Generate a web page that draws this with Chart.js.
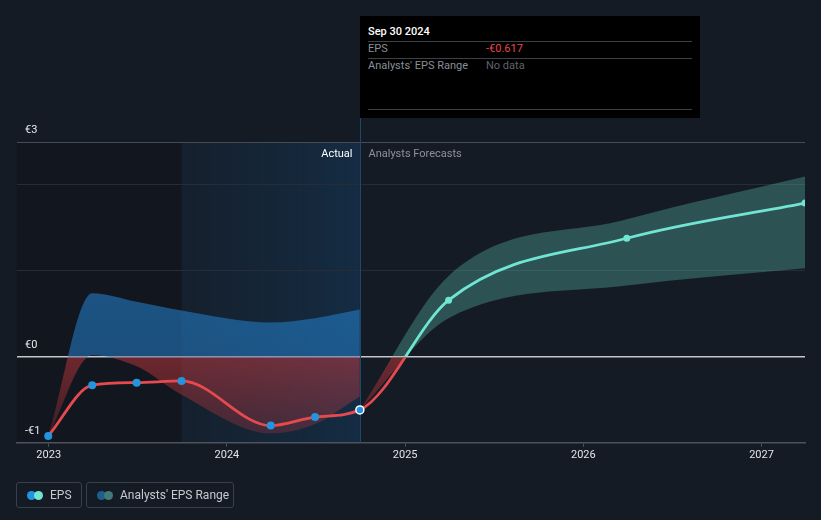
<!DOCTYPE html>
<html>
<head>
<meta charset="utf-8">
<script src="https://cdn.jsdelivr.net/npm/chart.js@4.4.1/dist/chart.umd.min.js"></script>
<style>
  html, body { margin: 0; padding: 0; background: #151b24; }
  body { width: 821px; height: 520px; position: relative; overflow: hidden; font-family: Roboto, "Noto Sans", sans-serif; }
  canvas { position: absolute; left: 0; top: 0; }
  .tip { position: absolute; left: 360px; top: 16px; width: 340px; height: 102px; background: #000; font-size: 11px; }
  .tip div { position: absolute; white-space: nowrap; line-height: 14px; }
  .tip .rule { left: 8px; width: 324px; height: 1px; background: #3d4047; }
  .legend { position: absolute; top: 482px; height: 26px; border: 1px solid #3a404a; border-radius: 3px; box-sizing: border-box; color: #c6c9ce; font-size: 12px; }
  .legend .dot { position: absolute; top: 8px; width: 9px; height: 9px; border-radius: 50%; }
  .legend span { position: absolute; top: 5px; white-space: nowrap; line-height: 14px; }
</style>
</head>
<body>
<canvas id="eps" width="821" height="520"></canvas>

<div class="tip">
  <div style="left:8px; top:9px; color:#fff; font-weight:500;">Sep 30 2024</div>
  <div class="rule" style="top:25px;"></div>
  <div style="left:8px; top:26px; color:#8a8f98;">EPS</div>
  <div style="left:126px; top:26px; color:#e8474c;">-€0.617</div>
  <div class="rule" style="top:42px;"></div>
  <div style="left:8px; top:43px; color:#8a8f98;">Analysts' EPS Range</div>
  <div style="left:126px; top:43px; color:#5f636b;">No data</div>
  <div class="rule" style="top:93px;"></div>
</div>

<div class="legend" style="left:16px; width:66px;">
  <div class="dot" style="left:10px; background:#2394df;"></div>
  <div class="dot" style="left:17px; background:#6fe5d2;"></div>
  <span style="left:33px;">EPS</span>
</div>
<div class="legend" style="left:86px; width:148px;">
  <div class="dot" style="left:10px; background:#1f5f8f;"></div>
  <div class="dot" style="left:17px; background:#3f7b78;"></div>
  <span style="left:33px;">Analysts' EPS Range</span>
</div>

<script>
// reported EPS (EUR)
const actualDates = ['2022-12-31', '2023-03-31', '2023-06-30', '2023-09-30', '2024-03-31', '2024-06-30', '2024-09-30'];
const actualEps = [-0.92, -0.33, -0.30, -0.28, -0.80, -0.70, -0.617];
// analysts' range around the reported quarters
const pastLow = [-0.92, 0.02, -0.11, -0.44, -0.89, -0.78, -0.46];
const pastHigh = [-0.92, 0.74, 0.64, 0.54, 0.40, 0.45, 0.55];

// forecasts
const forecastDates = ['2025-03-31', '2026-03-31', '2027-03-31'];
const forecastEps = [0.66, 1.38, 1.79];
const rangeDates = ['2024-09-30', '2025-03-31', '2026-03-31', '2027-03-31'];
const rangeLow = [-0.617, 0.45, 0.83, 1.03];
const rangeHigh = [-0.617, 0.94, 1.60, 2.10];

const yearTicks = [2023, 2024, 2025, 2026, 2027];
const yGrid = [-1, 0, 1, 2, 2.5];
const yTickValues = [-1, 0, 2.5];
const yTickLabels = ['-€1', '€0', '€3'];

const xStart = '2022-10-28';
const xEnd = '2027-03-31';
const shadeStart = '2023-09-30';
const todayDate = '2024-09-30';

function toYear(s) {
  const d = new Date(s + 'T00:00:00Z');
  const y = d.getUTCFullYear();
  const a = Date.UTC(y, 0, 1), b = Date.UTC(y + 1, 0, 1);
  return y + (d.getTime() - a) / (b - a);
}
const pts = (dates, vals) => dates.map((d, i) => ({ x: toYear(d), y: vals[i] }));

function signGradient(chart, above, below) {
  const { ctx, chartArea, scales } = chart;
  if (!chartArea) return null;
  const y0 = scales.y.getPixelForValue(0);
  const f = Math.min(1, Math.max(0, (y0 - chartArea.top) / (chartArea.bottom - chartArea.top)));
  const g = ctx.createLinearGradient(0, chartArea.top, 0, chartArea.bottom);
  g.addColorStop(0, above[0]);
  g.addColorStop(f, above[1]);
  g.addColorStop(f, below[0]);
  g.addColorStop(1, below[1]);
  return g;
}

const RED = '#e64a4f';
const TEAL = '#6fe5d2';
const redFill = ['rgba(220,60,65,0.45)', 'rgba(220,60,65,0.2)'];

const epsPoints = pts(actualDates, actualEps).concat(pts(forecastDates, forecastEps));
const nA = actualDates.length;
const pointColors = epsPoints.map((p, i) => i < nA ? '#2394df' : TEAL);
const pointBorders = epsPoints.map((p, i) => i === nA - 1 ? '#ffffff' : 'rgba(0,0,0,0)');
const pointBorderW = epsPoints.map((p, i) => i === nA - 1 ? 1.5 : 0);
const pointRadii = epsPoints.map((p, i) => i < nA ? 4 : 3.5);

const backdrop = {
  id: 'backdrop',
  beforeDraw(chart) {
    const { ctx, chartArea: a, scales: { x } } = chart;
    const xs = x.getPixelForValue(toYear(shadeStart));
    const xt = x.getPixelForValue(toYear(todayDate));
    ctx.save();
    ctx.fillStyle = '#12161e';
    ctx.fillRect(a.left, a.top, xs - a.left, a.bottom - a.top);
    const g = ctx.createLinearGradient(xs, 0, xt, 0);
    g.addColorStop(0, 'rgba(25,80,130,0.10)');
    g.addColorStop(1, 'rgba(20,90,150,0.28)');
    ctx.fillStyle = g;
    ctx.fillRect(xs, a.top, xt - xs, a.bottom - a.top);
    ctx.restore();
  },
  beforeDatasetsDraw(chart) {
    const { ctx, chartArea: a, scales: { x } } = chart;
    const xt = Math.round(x.getPixelForValue(toYear(todayDate))) + 0.5;
    ctx.save();
    ctx.strokeStyle = '#1d4a6a';
    ctx.lineWidth = 1;
    ctx.beginPath();
    ctx.moveTo(xt, 118);
    ctx.lineTo(xt, a.bottom);
    ctx.stroke();
    ctx.font = '11px Roboto, sans-serif';
    ctx.textBaseline = 'middle';
    ctx.textAlign = 'right';
    ctx.fillStyle = '#ffffff';
    ctx.fillText('Actual', xt - 8, a.top + 12);
    ctx.textAlign = 'left';
    ctx.fillStyle = '#8d9199';
    ctx.fillText('Analysts Forecasts', xt + 8, a.top + 12);
    ctx.restore();
  }
};

new Chart(document.getElementById('eps'), {
  type: 'line',
  data: {
    datasets: [
      {
        data: epsPoints,
        borderColor: c => signGradient(c.chart, [TEAL, TEAL], [RED, RED]),
        borderWidth: 2.8,
        cubicInterpolationMode: 'monotone',
        pointBackgroundColor: pointColors,
        pointBorderColor: pointBorders,
        pointBorderWidth: pointBorderW,
        pointRadius: pointRadii,
        fill: false
      },
      {
        data: pts(actualDates, pastLow),
        borderColor: 'rgba(0,0,0,0)',
        pointRadius: 0,
        cubicInterpolationMode: 'monotone',
        fill: false
      },
      {
        data: pts(actualDates, pastHigh),
        borderColor: 'rgba(0,0,0,0)',
        pointRadius: 0,
        cubicInterpolationMode: 'monotone',
        fill: '-1',
        backgroundColor: c => signGradient(c.chart, ['rgba(35,130,205,0.68)', 'rgba(35,125,200,0.55)'], redFill)
      },
      {
        data: pts(rangeDates, rangeLow),
        borderColor: 'rgba(0,0,0,0)',
        pointRadius: 0,
        cubicInterpolationMode: 'monotone',
        fill: false
      },
      {
        data: pts(rangeDates, rangeHigh),
        borderColor: 'rgba(0,0,0,0)',
        pointRadius: 0,
        cubicInterpolationMode: 'monotone',
        fill: '-1',
        backgroundColor: c => signGradient(c.chart, ['rgba(95,195,180,0.33)', 'rgba(95,195,180,0.33)'], redFill)
      }
    ]
  },
  options: {
    responsive: false,
    animation: false,
    events: [],
    layout: { padding: { left: 1, right: 16, top: 142, bottom: 56 } },
    plugins: { legend: { display: false }, tooltip: { enabled: false } },
    scales: {
      x: {
        type: 'linear',
        min: toYear(xStart),
        max: toYear(xEnd),
        afterBuildTicks: s => { s.ticks = yearTicks.map(v => ({ value: v })); },
        ticks: {
          color: '#e2e4e8',
          font: { family: 'Roboto', size: 11 },
          padding: 2,
          maxRotation: 0,
          autoSkip: false,
          callback: v => String(v)
        },
        grid: { drawOnChartArea: false, drawTicks: true, tickLength: 4, color: '#4d535d' },
        border: { color: '#4d535d', width: 1.5 }
      },
      y: {
        type: 'linear',
        min: -1,
        max: 2.5,
        afterBuildTicks: s => { s.ticks = yGrid.map(v => ({ value: v })); },
        ticks: {
          mirror: true,
          padding: 8,
          labelOffset: -12,
          color: '#e8eaed',
          font: { family: 'Roboto', size: 11 },
          callback: v => {
            const i = yTickValues.indexOf(v);
            return i >= 0 ? yTickLabels[i] : '';
          }
        },
        grid: {
          drawTicks: false,
          color: c => {
            const v = c.tick.value;
            if (v === -1) return 'rgba(0,0,0,0)';
            if (v === 0) return '#c4c6ca';
            if (v === 2.5) return '#464c56';
            return '#262d38';
          },
          lineWidth: c => c.tick.value === 0 ? 1.6 : 1
        },
        border: { display: false }
      }
    }
  },
  plugins: [backdrop]
});
</script>
</body>
</html>
